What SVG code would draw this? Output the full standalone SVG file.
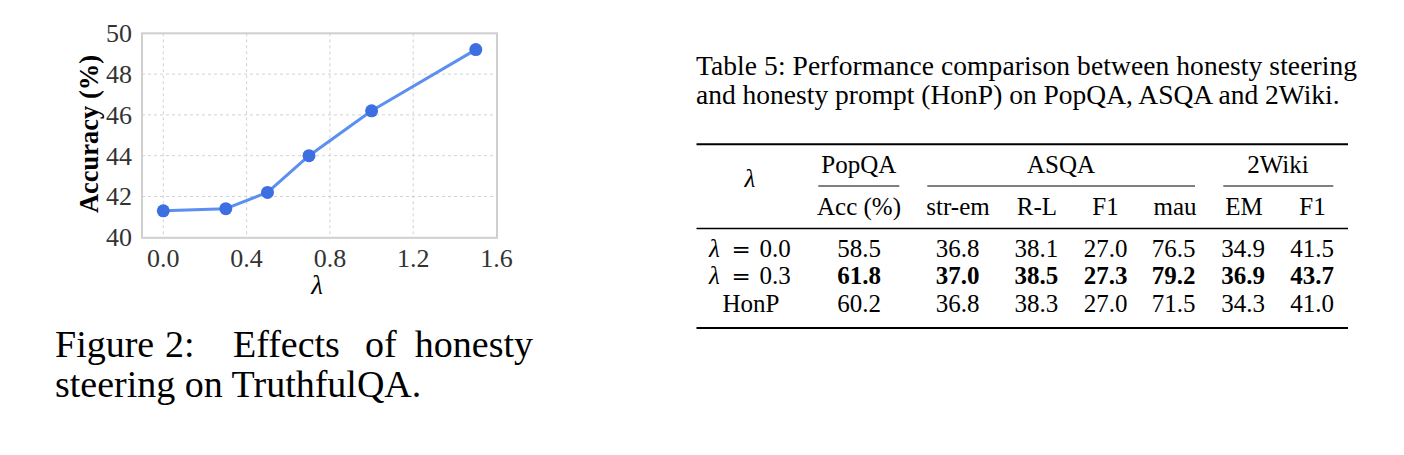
<svg xmlns="http://www.w3.org/2000/svg" width="1404" height="455" viewBox="0 0 1404 455">
<style>
.serif{font-family:"Liberation Serif","Times New Roman",serif;fill:#000}
.tick{font-family:"Liberation Serif","Times New Roman",serif;font-size:26px;fill:#333}
.grid{stroke:#d2d2d2;stroke-width:1;stroke-dasharray:3,3;fill:none}
.tb{font-family:"Liberation Serif","Times New Roman",serif;font-size:25px;fill:#000;text-anchor:middle}
.bold{font-weight:bold}
.it{font-style:italic}
.rule{stroke:#000;fill:none}
.dot{fill:#3d6fe3}
</style>
<rect width="1404" height="455" fill="#fff"/>
<g id="plot">
  <rect x="142" y="33.3" width="355" height="204.5" fill="#fff" stroke="#cfcfcf" stroke-width="2"/>
  <g class="grid">
    <line x1="163.3" y1="33.3" x2="163.3" y2="237.8"/>
    <line x1="246.6" y1="33.3" x2="246.6" y2="237.8"/>
    <line x1="329.9" y1="33.3" x2="329.9" y2="237.8"/>
    <line x1="413.2" y1="33.3" x2="413.2" y2="237.8"/>
    <line x1="142" y1="74.1" x2="497" y2="74.1"/>
    <line x1="142" y1="114.9" x2="497" y2="114.9"/>
    <line x1="142" y1="155.7" x2="497" y2="155.7"/>
    <line x1="142" y1="196.5" x2="497" y2="196.5"/>
  </g>
  <g class="tick" text-anchor="end">
    <text x="132" y="42">50</text>
    <text x="132" y="83">48</text>
    <text x="132" y="123.5">46</text>
    <text x="132" y="164.5">44</text>
    <text x="132" y="205">42</text>
    <text x="132" y="245.5">40</text>
  </g>
  <g class="tick" text-anchor="middle">
    <text x="163.3" y="267">0.0</text>
    <text x="246.6" y="267">0.4</text>
    <text x="329.9" y="267">0.8</text>
    <text x="413.2" y="267">1.2</text>
    <text x="496.5" y="267">1.6</text>
  </g>
  <text class="serif it" x="317" y="294" font-size="27" text-anchor="middle" fill="#222">λ</text>
  <text class="serif bold" transform="translate(98,134) rotate(-90)" font-size="26.5" text-anchor="middle" fill="#222">Accuracy (%)</text>
  <polyline points="163.3,210.8 225.8,208.7 267.5,192.4 309,155.7 371.6,110.8 475.8,49.6" fill="none" stroke="#5b8ff0" stroke-width="3" stroke-linejoin="round"/>
  <g class="dot">
    <circle cx="163.3" cy="210.8" r="6.5"/>
    <circle cx="225.8" cy="208.7" r="6.5"/>
    <circle cx="267.5" cy="192.4" r="6.5"/>
    <circle cx="309" cy="155.7" r="6.5"/>
    <circle cx="371.6" cy="110.8" r="6.5"/>
    <circle cx="475.8" cy="49.6" r="6.5"/>
  </g>
</g>
<g id="figure-caption" class="serif" font-size="38">
  <text x="55" y="357">Figure</text>
  <text x="165" y="357">2:</text>
  <text x="233" y="357">Effects</text>
  <text x="365" y="357">of</text>
  <text x="533" y="357" text-anchor="end">honesty</text>
  <text x="55" y="397">steering on TruthfulQA.</text>
</g>
<g id="table-caption" class="serif" font-size="27.5">
  <text x="696" y="75" textLength="661" lengthAdjust="spacing">Table 5: Performance comparison between honesty steering</text>
  <text x="696" y="103.5">and honesty prompt (HonP) on PopQA, ASQA and 2Wiki.</text>
</g>
<g id="table">
  <line class="rule" x1="696.5" y1="144.3" x2="1348" y2="144.3" stroke-width="2"/>
  <line class="rule" x1="818.3" y1="186" x2="899.3" y2="186" stroke-width="1.2"/>
  <line class="rule" x1="927.3" y1="186" x2="1195" y2="186" stroke-width="1.2"/>
  <line class="rule" x1="1223.3" y1="186" x2="1333.3" y2="186" stroke-width="1.2"/>
  <line class="rule" x1="696.5" y1="228.5" x2="1348" y2="228.5" stroke-width="1.6"/>
  <line class="rule" x1="696.5" y1="328" x2="1348" y2="328" stroke-width="2"/>
  <g id="header" class="tb">
    <text class="it" x="750" y="187">λ</text>
    <text x="858.8" y="173.3">PopQA</text>
    <text x="1061" y="173.3">ASQA</text>
    <text x="1278" y="173.3">2Wiki</text>
    <text x="859" y="215">Acc (%)</text>
    <text x="958" y="215">str-em</text>
    <text x="1037" y="215">R-L</text>
    <text x="1105.5" y="215">F1</text>
    <text x="1175" y="215">mau</text>
    <text x="1244" y="215">EM</text>
    <text x="1312.5" y="215">F1</text>
  </g>
  <g id="row1" class="tb">
    <text class="it" x="714.5" y="256.7">λ</text>
    <text x="741.2" y="256.7" font-family="DejaVu Serif" font-size="23">=</text>
    <text x="775" y="256.7">0.0</text>
    <text x="859" y="256.7">58.5</text>
    <text x="957.7" y="256.7">36.8</text>
    <text x="1036.3" y="256.7">38.1</text>
    <text x="1105.5" y="256.7">27.0</text>
    <text x="1173.5" y="256.7">76.5</text>
    <text x="1243" y="256.7">34.9</text>
    <text x="1312" y="256.7">41.5</text>
  </g>
  <g id="row2" class="tb">
    <text class="it" x="714.5" y="284">λ</text>
    <text x="741.2" y="284" font-family="DejaVu Serif" font-size="23">=</text>
    <text x="775" y="284">0.3</text>
    <text class="bold" x="859" y="284">61.8</text>
    <text class="bold" x="957.7" y="284">37.0</text>
    <text class="bold" x="1036.3" y="284">38.5</text>
    <text class="bold" x="1105.5" y="284">27.3</text>
    <text class="bold" x="1173.5" y="284">79.2</text>
    <text class="bold" x="1243" y="284">36.9</text>
    <text class="bold" x="1312" y="284">43.7</text>
  </g>
  <g id="row3" class="tb">
    <text x="751" y="311.7">HonP</text>
    <text x="859" y="311.7">60.2</text>
    <text x="957.7" y="311.7">36.8</text>
    <text x="1036.3" y="311.7">38.3</text>
    <text x="1105.5" y="311.7">27.0</text>
    <text x="1173.5" y="311.7">71.5</text>
    <text x="1243" y="311.7">34.3</text>
    <text x="1312" y="311.7">41.0</text>
  </g>
</g>
</svg>
